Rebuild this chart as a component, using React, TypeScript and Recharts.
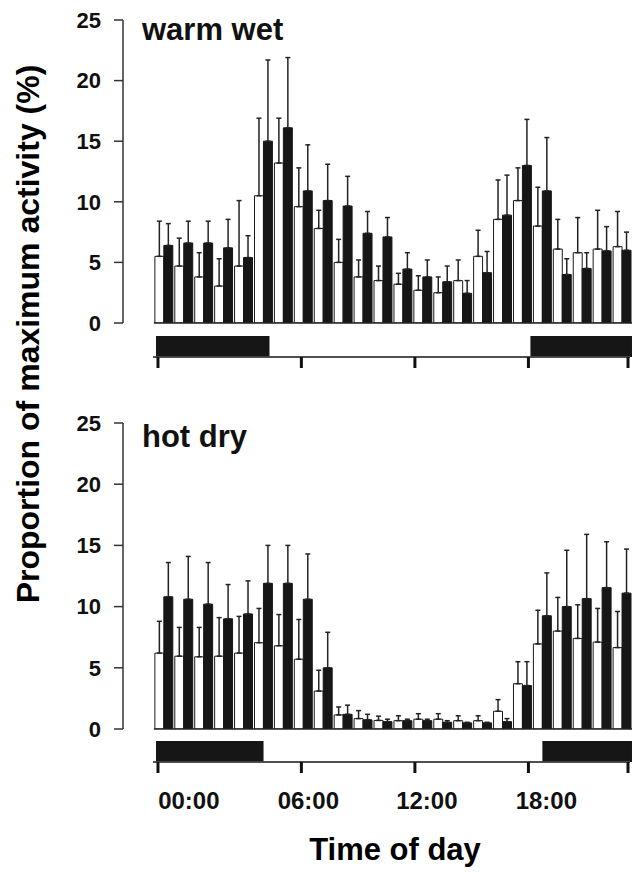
import React from 'react';
import {
  BarChart,
  Bar,
  XAxis,
  YAxis,
  ErrorBar,
  ReferenceLine,
  ReferenceArea,
  ComposedChart,
} from 'recharts';

// hour slots (each slot = white bar + black bar)
const hours = ['00', '01', '02', '03', '04', '05', '06', '07', '08', '09', '10', '11',
  '12', '13', '14', '15', '16', '17', '18', '19', '20', '21', '22', '23'];

// warm wet
const warmWhite = [5.5, 4.7, 3.8, 3.05, 4.7, 10.5, 13.2, 9.6, 7.8, 5.0, 3.8, 3.5, 3.2, 2.7, 2.5, 3.5, 5.5, 8.55, 10.1, 8.0, 6.1, 5.8, 6.1, 6.3];
const warmWhiteErr = [2.9, 2.3, 2.0, 2.25, 5.4, 6.4, 3.7, 3.2, 1.5, 1.9, 1.4, 1.2, 0.9, 1.2, 1.3, 1.7, 2.15, 3.25, 2.7, 3.2, 2.45, 2.9, 3.2, 2.9];
const warmBlack = [6.4, 6.6, 6.6, 6.2, 5.4, 15.0, 16.1, 10.9, 10.1, 9.65, 7.4, 7.1, 4.45, 3.8, 3.4, 2.45, 4.15, 8.9, 13.0, 10.9, 4.0, 4.5, 5.95, 6.0];
const warmBlackErr = [1.8, 1.8, 1.8, 2.35, 1.8, 6.7, 5.8, 3.8, 3.0, 2.45, 1.8, 1.6, 1.35, 1.4, 1.3, 1.05, 1.75, 3.3, 3.8, 4.4, 1.3, 1.3, 2.0, 1.5];

// hot dry
const hotWhite = [6.2, 5.95, 5.9, 5.95, 6.2, 7.05, 6.8, 5.7, 3.1, 1.15, 0.85, 0.7, 0.68, 0.8, 0.8, 0.68, 0.68, 1.45, 3.7, 6.95, 8.0, 7.4, 7.1, 6.65];
const hotWhiteErr = [2.6, 2.35, 2.4, 3.15, 3.0, 2.8, 2.55, 3.25, 1.7, 0.65, 0.65, 0.35, 0.4, 0.45, 0.45, 0.4, 0.4, 0.95, 1.8, 2.75, 2.75, 2.75, 2.75, 2.95];
const hotBlack = [10.8, 10.6, 10.2, 9.0, 9.4, 11.9, 11.9, 10.6, 5.0, 1.2, 0.75, 0.6, 0.68, 0.68, 0.55, 0.5, 0.5, 0.6, 3.55, 9.25, 10.0, 10.65, 11.55, 11.1];
const hotBlackErr = [2.8, 3.5, 3.4, 2.8, 2.7, 3.1, 3.1, 3.7, 2.9, 0.75, 0.45, 0.2, 0.12, 0.12, 0.13, 0.05, 0.05, 0.25, 1.95, 3.5, 4.6, 5.25, 3.75, 3.6];

// dark periods (hours) drawn in the strip under each panel
const warmDark = [[0.1, 5.8], [18.9, 24.0]];
const hotDark = [[0.1, 5.5], [19.5, 24.0]];

const yTicks = [0, 5, 10, 15, 20, 25];
const xTickHours = [0.2, 7.4, 13.1, 18.8, 23.8];
const timeLabels = ['00:00', '06:00', '12:00', '18:00'];
const timeLabelHours = [1.75, 7.75, 13.7, 19.7];

const X_DOMAIN = [-1.55, 24];
const STRIP_DOMAIN = [-0.05, 23.9];
const FONT = '"Liberation Sans", Arial, sans-serif';
const W = 637;

const buildRows = (w: number[], we: number[], b: number[], be: number[]) =>
  hours.map((h, i) => ({
    hour: h,
    x: i + 0.5,
    white: w[i],
    whiteErr: [0, we[i]],
    black: b[i],
    blackErr: [0, be[i]],
  }));

const Panel = ({ rows, top, height, mTop, mBottom }: any) => (
  <div style={{ position: 'absolute', left: 0, top }}>
    <BarChart width={W} height={height} data={rows} barGap={0} barCategoryGap={0}
      margin={{ top: mTop, right: 5, bottom: mBottom, left: 0 }}>
      <XAxis dataKey="x" type="number" domain={X_DOMAIN} allowDataOverflow hide />
      <YAxis
        domain={[0, 25]}
        ticks={yTicks}
        allowDataOverflow
        width={123}
        interval={0}
        axisLine={{ stroke: '#333', strokeWidth: 1.5 }}
        tickLine={{ stroke: '#333', strokeWidth: 1.5 }}
        tickSize={9}
        tickMargin={13}
        tick={{ fill: '#111', fontSize: 22, fontWeight: 'bold', fontFamily: FONT }}
      />
      <ReferenceLine segment={[{ x: 0, y: 0 }, { x: 24, y: 0 }]} stroke="#222" strokeWidth={1.5} ifOverflow="visible" />
      <Bar dataKey="white" barSize={10} fill="#ffffff" stroke="#1a1a1a" strokeWidth={1} isAnimationActive={false}>
        <ErrorBar dataKey="whiteErr" width={2.5} stroke="#222" strokeWidth={1.5} direction="y" />
      </Bar>
      <Bar dataKey="black" barSize={10} fill="#161616" stroke="#161616" strokeWidth={1} isAnimationActive={false}>
        <ErrorBar dataKey="blackErr" width={2.5} stroke="#222" strokeWidth={1.5} direction="y" />
      </Bar>
    </BarChart>
  </div>
);

const Strip = ({ dark, top }: any) => (
  <div style={{ position: 'absolute', left: 0, top }}>
    <ComposedChart width={W} height={50} data={[{ x: 0, v: 0 }]}
      margin={{ top: 11, right: 7, bottom: 7, left: 153 }}>
      <XAxis
        dataKey="x"
        type="number"
        domain={STRIP_DOMAIN}
        allowDataOverflow
        ticks={xTickHours}
        interval={0}
        height={11}
        axisLine={{ stroke: '#444', strokeWidth: 1.5 }}
        tickSize={11}
        tickLine={{ stroke: '#111', strokeWidth: 3 }}
        tick={{ fill: 'none', fontSize: 1 }}
      />
      <YAxis domain={[0, 1]} hide allowDataOverflow />
      {dark.map((d: number[], i: number) => (
        <ReferenceArea key={i} x1={d[0]} x2={d[1]} y1={0} y2={1}
          fill="#161616" fillOpacity={1} stroke="none" ifOverflow="visible" />
      ))}
      <ReferenceLine y={0} stroke="#444" strokeWidth={1.5} ifOverflow="visible" />
    </ComposedChart>
  </div>
);

const TimeLabels = ({ top }: any) => (
  <div style={{ position: 'absolute', left: 0, top }}>
    <ComposedChart width={W} height={70} data={[{ x: 0, v: 0 }]}
      margin={{ top: 0, right: 7, bottom: 20, left: 153 }}>
      <XAxis
        dataKey="x"
        type="number"
        domain={STRIP_DOMAIN}
        allowDataOverflow
        ticks={timeLabelHours}
        interval={0}
        height={40}
        axisLine={false}
        tickLine={false}
        tickSize={0}
        tickMargin={20}
        tickFormatter={(_v: number, i: number) => timeLabels[i]}
        tick={{ fill: '#111', fontSize: 24, fontWeight: 'bold', fontFamily: FONT }}
      />
      <YAxis domain={[0, 1]} hide />
    </ComposedChart>
  </div>
);

export default function App() {
  const warmRows = buildRows(warmWhite, warmWhiteErr, warmBlack, warmBlackErr);
  const hotRows = buildRows(hotWhite, hotWhiteErr, hotBlack, hotBlackErr);
  return (
    <div style={{ position: 'absolute', left: 0, top: 0, width: W, height: 872, background: '#fff', fontFamily: FONT }}>
      <Panel rows={warmRows} top={0} height={360} mTop={20} mBottom={37} />
      <Panel rows={hotRows} top={400} height={360} mTop={23} mBottom={31} />
      <Strip dark={warmDark} top={325} />
      <Strip dark={hotDark} top={730} />
      <TimeLabels top={762} />
      <svg width={W} height={872} style={{ position: 'absolute', left: 0, top: 0, pointerEvents: 'none' }}>
        <text x={142} y={40} fontSize={31} fontWeight="bold" fill="#111" fontFamily={FONT}>warm wet</text>
        <text x={142} y={447} fontSize={31} fontWeight="bold" fill="#111" fontFamily={FONT}>hot dry</text>
        <text x={395} y={860} fontSize={31} fontWeight="bold" fill="#000" textAnchor="middle" fontFamily={FONT}>Time of day</text>
        <text transform="translate(39, 334) rotate(-90)" fontSize={32} fontWeight="bold" fill="#000"
          textAnchor="middle" fontFamily={FONT}>Proportion of maximum activity (%)</text>
      </svg>
    </div>
  );
}
